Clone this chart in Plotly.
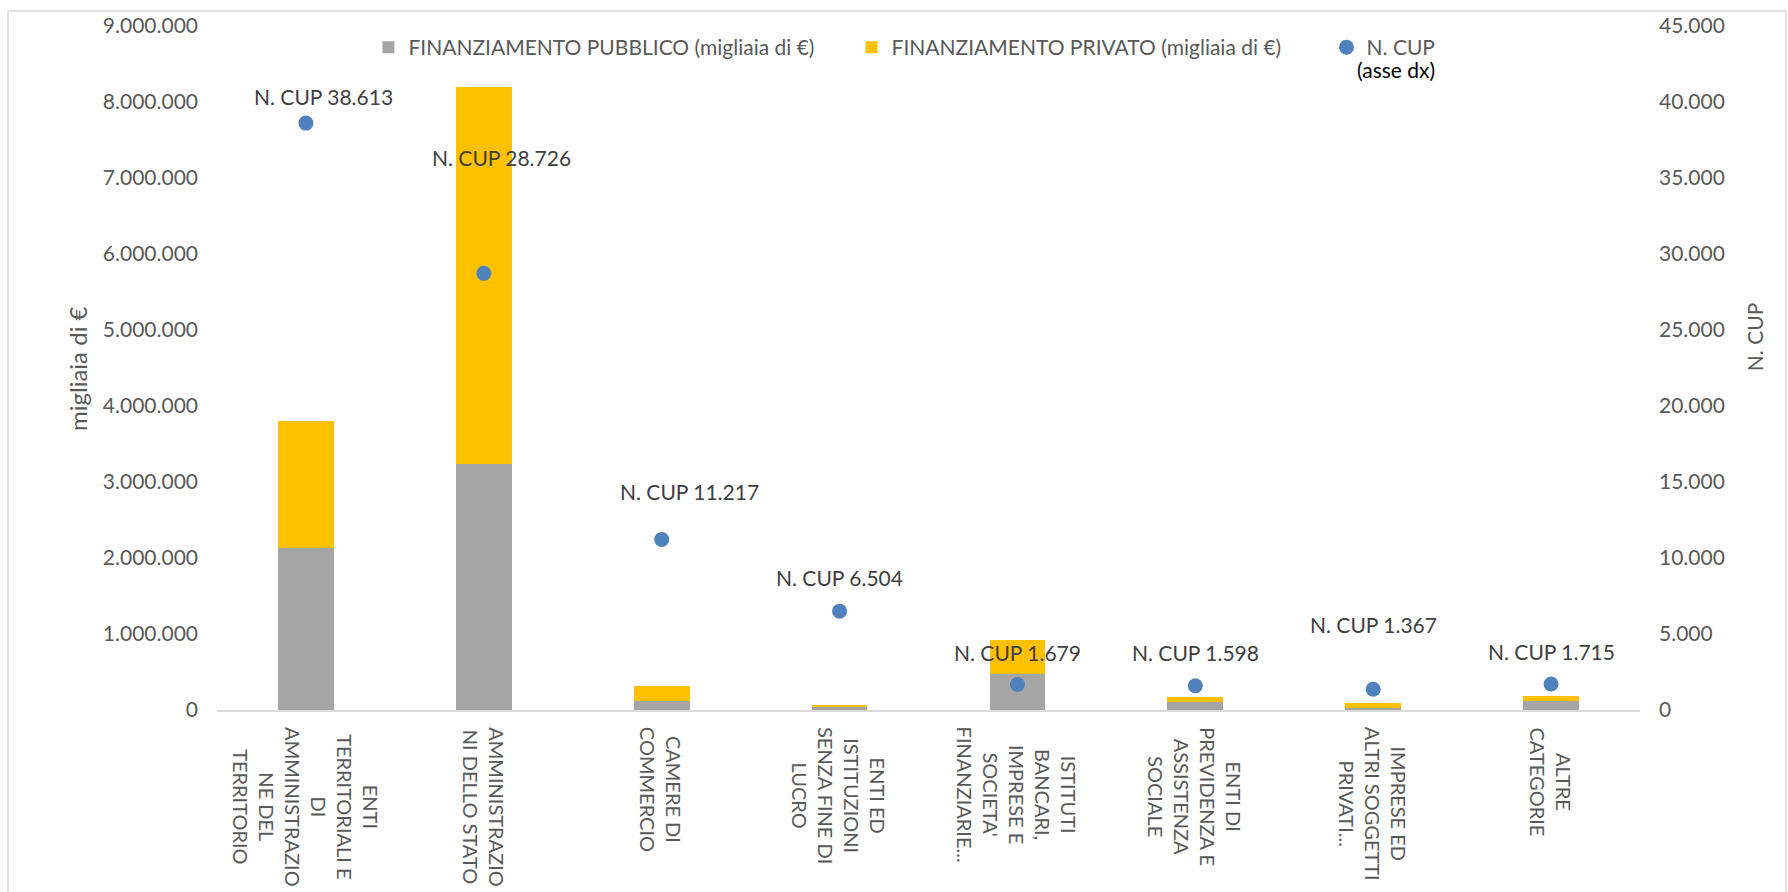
import plotly.graph_objects as go

# ---------------- data ----------------
categories = [
    "ENTI TERRITORIALI E DI AMMINISTRAZIONE DEL TERRITORIO",
    "AMMINISTRAZIONI DELLO STATO",
    "CAMERE DI COMMERCIO",
    "ENTI ED ISTITUZIONI SENZA FINE DI LUCRO",
    "ISTITUTI BANCARI, IMPRESE E SOCIETA' FINANZIARIE",
    "ENTI DI PREVIDENZA E ASSISTENZA SOCIALE",
    "IMPRESE ED ALTRI SOGGETTI PRIVATI",
    "ALTRE CATEGORIE",
]
category_labels = [
    "ENTI<br>TERRITORIALI E<br>DI<br>AMMINISTRAZIO<br>NE DEL<br>TERRITORIO",
    "AMMINISTRAZIO<br>NI DELLO STATO",
    "CAMERE DI<br>COMMERCIO",
    "ENTI ED<br>ISTITUZIONI<br>SENZA FINE DI<br>LUCRO",
    "ISTITUTI<br>BANCARI,<br>IMPRESE E<br>SOCIETA'<br>FINANZIARIE...",
    "ENTI DI<br>PREVIDENZA E<br>ASSISTENZA<br>SOCIALE",
    "IMPRESE ED<br>ALTRI SOGGETTI<br>PRIVATI...",
    "ALTRE<br>CATEGORIE",
]
finanziamento_pubblico = [2130000, 3240000, 115000, 35000, 478000, 110000, 22000, 118000]
finanziamento_privato = [1670000, 4960000, 195000, 30000, 437000, 55000, 70000, 65000]
n_cup = [38613, 28726, 11217, 6504, 1679, 1598, 1367, 1715]

# label offsets (pixels) for the N. CUP data labels
label_dx = [18, 18, 28, 0, 0, 0, 0, 0]
label_dy = [27, 116, 48, 34, 32, 33, 65, 32]

FONT = "Lato"
GREY_TXT = "#595959"

fig = go.Figure()
fig.add_trace(go.Bar(
    x=categories, y=finanziamento_pubblico,
    name="FINANZIAMENTO PUBBLICO (migliaia di €)",
    marker=dict(color="#A5A5A5", line=dict(width=0)),
    width=0.313, legend="legend",
))
fig.add_trace(go.Bar(
    x=categories, y=finanziamento_privato,
    name="FINANZIAMENTO PRIVATO (migliaia di €)",
    marker=dict(color="#FFC000", line=dict(width=0)),
    width=0.313, legend="legend2",
))
fig.add_trace(go.Scatter(
    x=categories, y=n_cup, yaxis="y2", mode="markers",
    name="N. CUP",
    marker=dict(color="#4F81BD", size=15),
    legend="legend3",
))

annotations = []
for c, v, dx, dy in zip(categories, n_cup, label_dx, label_dy):
    annotations.append(dict(
        x=c, y=v, xref="x", yref="y2",
        text="N. CUP " + f"{v:,}".replace(",", "."),
        showarrow=False, xshift=dx, yshift=dy,
        xanchor="center", yanchor="middle",
        font=dict(family=FONT, size=21, color="#404040"),
    ))
for c, lab in zip(categories, category_labels):
    annotations.append(dict(
        x=c, y=-0.022, xref="x", yref="paper",
        text=lab, textangle=90, showarrow=False,
        xanchor="center", yanchor="top", align="center",
        font=dict(family=FONT, size=20, color=GREY_TXT),
    ))
# legend note and axis titles
annotations.append(dict(
    x=0.7997, y=0.9358, xref="paper", yref="paper",
    text="(asse dx)", showarrow=False, xanchor="left", yanchor="middle",
    font=dict(family=FONT, size=21, color="#000000"),
))
annotations.append(dict(
    x=-0.0984, y=0.5, xref="paper", yref="paper",
    text="migliaia di €", textangle=-90, showarrow=False,
    xanchor="center", yanchor="middle",
    font=dict(family=FONT, size=24, color=GREY_TXT),
))
annotations.append(dict(
    x=1.0801, y=0.545, xref="paper", yref="paper",
    text="N. CUP", textangle=-90, showarrow=False,
    xanchor="center", yanchor="middle",
    font=dict(family=FONT, size=21, color=GREY_TXT),
))

leg_common = dict(
    orientation="h", xanchor="left", y=0.9685, yanchor="middle",
    font=dict(family=FONT, size=21, color=GREY_TXT),
    bgcolor="rgba(0,0,0,0)",
)

fig.update_layout(
    width=1788, height=892,
    margin=dict(l=217, r=148, t=22, b=182, pad=0),
    paper_bgcolor="white", plot_bgcolor="white",
    barmode="stack",
    separators=",.",
    font=dict(family=FONT, size=21, color=GREY_TXT),
    showlegend=True,
    legend=dict(x=0.1064, **leg_common),
    legend2=dict(x=0.4459, **leg_common),
    legend3=dict(x=0.7797, **leg_common),
    xaxis=dict(
        showticklabels=False, showgrid=False, zeroline=False,
        showline=True, linecolor="#D9D9D9", linewidth=2,
        range=[-0.5, 7.5], fixedrange=True,
    ),
    yaxis=dict(
        range=[0, 9000000], dtick=1000000, tickformat=",.0f",
        showgrid=False, zeroline=False, showline=False,
        ticks="", ticklabelstandoff=18,
        tickfont=dict(family=FONT, size=21, color=GREY_TXT),
    ),
    yaxis2=dict(
        range=[0, 45000], dtick=5000, tickformat=",.0f",
        overlaying="y", side="right",
        showgrid=False, zeroline=False, showline=False,
        ticks="", ticklabelstandoff=18,
        tickfont=dict(family=FONT, size=21, color=GREY_TXT),
    ),
    annotations=annotations,
    shapes=[dict(
        type="rect", xref="paper", yref="paper",
        x0=(8 - 217) / 1423, x1=(1786 - 217) / 1423,
        y0=-0.5, y1=(710 - 7) / 688,
        line=dict(color="#D9D9D9", width=1.5), fillcolor="rgba(0,0,0,0)",
        layer="below",
    )],
)

fig.write_html(
    "out.html",
    config={"displayModeBar": False},
    post_script="document.body.style.margin='0';document.body.style.overflow='hidden';",
)
